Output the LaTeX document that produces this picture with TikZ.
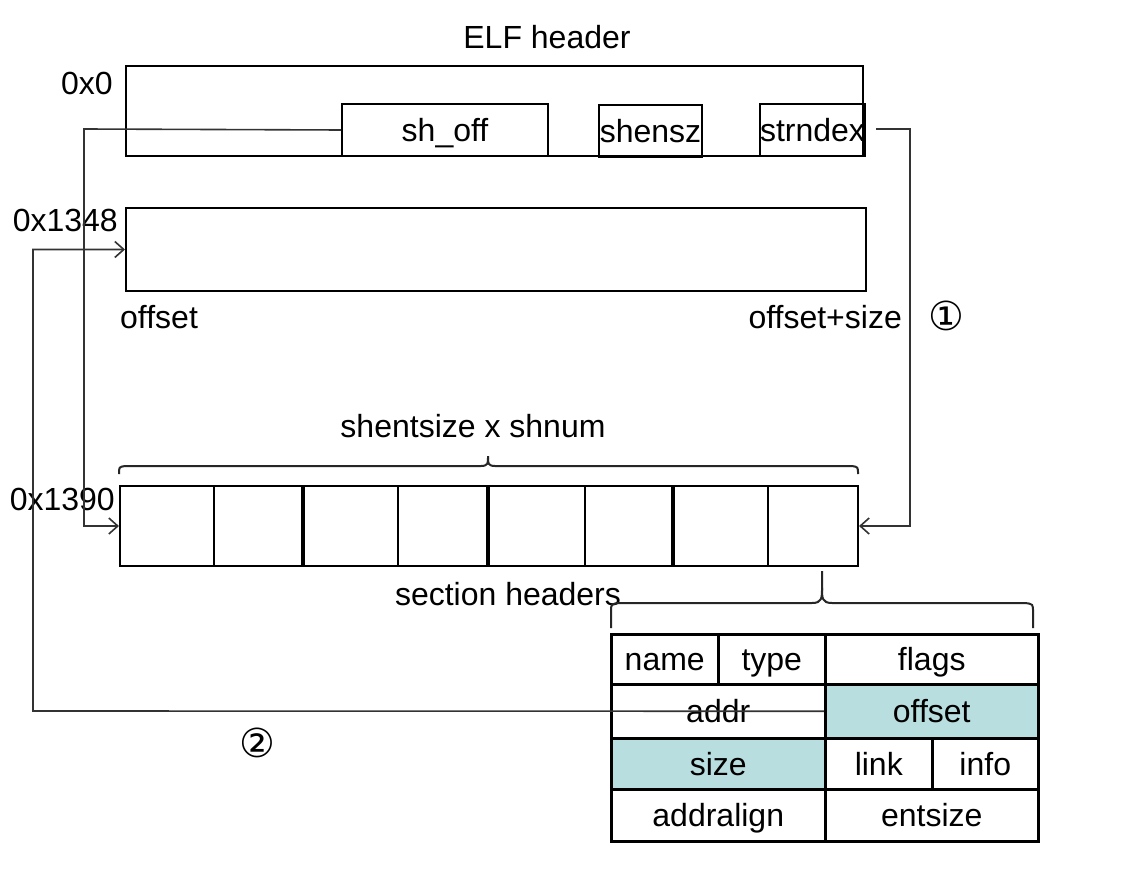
\documentclass[tikz,border=0pt]{standalone}
\usepackage{fontspec}
\setmainfont{Liberation Sans}
\newfontfamily\circfont{DejaVu Sans}
\usetikzlibrary{arrows.meta}
\definecolor{hl}{HTML}{B8DEE0}
\begin{document}
\begin{tikzpicture}[x=1pt,y=-1pt,
  lbl/.style={font=\fontsize{32}{36}\selectfont, inner sep=0},
  box/.style={draw, line width=2pt, inner sep=0, anchor=north west},
  cell/.style={draw, line width=2.5pt, inner sep=0, anchor=north west,
    font=\fontsize{32}{36}\selectfont, text height=23pt, text depth=0pt},
  conn/.style={draw=black!80, line width=1.6pt},
  tip/.style={-{Straight Barb[length=9pt,width=16pt,line width=1.6pt]}},
  circ/.style={inner sep=0, font=\circfont\fontsize{40}{44}\selectfont},
  bracepath/.style={draw=black!85, line width=2pt}]
\useasboundingbox (0,0) rectangle (1131,874);
\fill[white] (0,0) rectangle (1131,874);

% ELF header
\node[lbl, anchor=base] (title) at (547,49) {ELF header};
\node[box, minimum width=737pt, minimum height=90pt] (elf) at (125,65) {};
\node[cell, line width=2pt, minimum width=206pt, minimum height=52pt] (shoff) at (341,103) {sh\_off};
\node[cell, line width=2pt, minimum width=103pt, minimum height=52pt] (shensz) at (598,104) {shensz};
\node[cell, line width=2pt, minimum width=103pt, minimum height=52pt] (strndex) at (759,103) {strndex};
\node[lbl, anchor=base east] (l0) at (113,95) {0x0};

% segment
\node[box, minimum width=740pt, minimum height=83pt] (seg) at (125,207) {};
\node[lbl, anchor=base east] (l1348) at (118,232) {0x1348};
\node[lbl, anchor=base west] (loff) at (120,328) {offset};
\node[lbl, anchor=base east] (loffs) at (902,328) {offset+size};
\node[circ] (c1) at (946,316) {①};

% section headers
\node[lbl, anchor=base] (lsz) at (473,437) {shentsize x shnum};
\foreach \a/\b [count=\i from 0] in {119/213,213/303,303/397,397/488,488/584,584/673,673/767,767/857}{
  \node[box, minimum width={(\b-\a)*1pt}, minimum height=80pt] (s\i) at (\a,485) {};
}
\foreach \i in {2,4,6}{
  \draw[line width=3.5pt] (s\i.north west) -- (s\i.south west);
}
\node[lbl, anchor=base east] (l1390) at (115,510) {0x1390};
\node[lbl, anchor=base] (lsh) at (508,605) {section headers};

% braces
\draw[bracepath] (119,474) .. controls (119,467) .. (125,466) -- (481,466)
   .. controls (488,466) and (488,463) .. (488,458) -- (488,456);
\draw[bracepath] (858,474) .. controls (858,467) .. (852,466) -- (495,466)
   .. controls (488,466) and (488,463) .. (488,458);
\draw[bracepath] (611,628) -- (611,612) .. controls (611,604) .. (619,603) -- (812,603)
   .. controls (822,603) and (822,598) .. (822,588) -- (822,571);
\draw[bracepath] (1033,628) -- (1033,612) .. controls (1033,604) .. (1025,603) -- (832,603)
   .. controls (822,603) and (822,598) .. (822,588);

% table
\node[cell, minimum width=107pt, minimum height=50pt] (name) at (610,633) {name};
\node[cell, minimum width=107pt, minimum height=50pt] (type) at (717,633) {type};
\node[cell, minimum width=213pt, minimum height=50pt] (flags) at (824,633) {flags};
\node[cell, minimum width=214pt, minimum height=54pt] (addr) at (610,683) {addr};
\node[cell, fill=hl, minimum width=213pt, minimum height=54pt] (offset) at (824,683) {offset};
\node[cell, fill=hl, minimum width=214pt, minimum height=51pt] (size) at (610,737) {size};
\node[cell, minimum width=107pt, minimum height=51pt] (link) at (824,737) {link};
\node[cell, minimum width=106pt, minimum height=51pt] (info) at (931,737) {info};
\node[cell, minimum width=214pt, minimum height=52pt] (addralign) at (610,788) {addralign};
\node[cell, minimum width=213pt, minimum height=52pt] (entsize) at (824,788) {entsize};

% connectors
\coordinate (k1) at (84,129);
\draw[conn,tip] (shoff.west) -- (k1) |- (s0.west);
\coordinate (k2a) at (876,129);
\coordinate (k2) at (910,129);
\draw[conn,tip] (k2a) -- (k2) |- (s7.east);
\coordinate (k3) at (33,711);
\draw[conn,tip] (offset.west) -- (k3) |- (seg.west);
\node[circ] (c2) at (257,743) {②};
\end{tikzpicture}
\end{document}
